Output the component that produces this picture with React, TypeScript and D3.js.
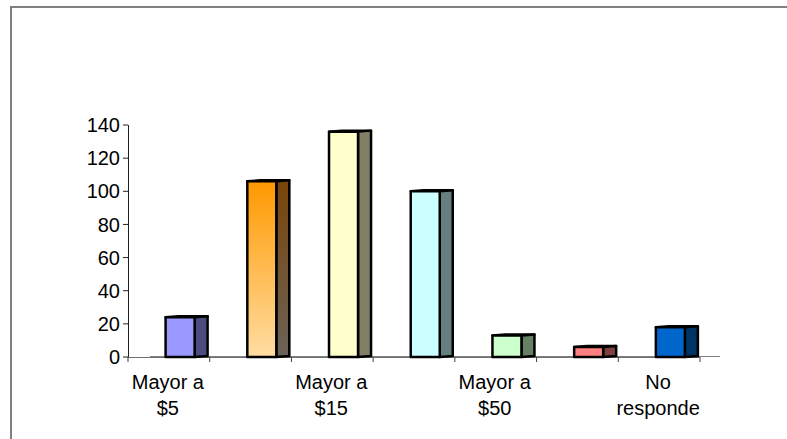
import React from "react";
import * as d3 from "d3";

// categories (only every other label is shown on the axis, as in the original)
const categories = ["Mayor a $5", "Mayor a $10", "Mayor a $15", "Mayor a $30", "Mayor a $50", "Mayor a $100", "No responde"];
const values = [24, 106, 136, 100, 13, 6, 18];
const yTicks = [0, 20, 40, 60, 80, 100, 120, 140];
const labelLines = [["Mayor a", "$5"], null, ["Mayor a", "$15"], null, ["Mayor a", "$50"], null, ["No", "responde"]];

const frontColors = ["#9999FF", "url(#gradFront)", "#FFFFCC", "#CCFFFF", "#CCFFCC", "#FF8080", "#0066CC"];
const sideColors = ["#4C4C80", "url(#gradSide)", "#808066", "#668080", "#668066", "#804040", "#003366"];

const W = 787;
const H = 439;
const font = "'Liberation Sans', Arial, sans-serif";

function App() {
  const x = d3.scaleBand().domain(categories).range([128, 700]).padding(0);
  const y = d3.scaleLinear().domain([0, 140]).range([357, 125]);
  const bw = x.bandwidth();
  const depth = 13;
  const lift = 1;

  return (
    <div>
      <style>{`body{margin:0}`}</style>
      <svg width={W} height={H} style={{ display: "block" }}>
        <defs>
          <linearGradient id="gradFront" x1="0" y1="0" x2="0" y2="1">
            <stop offset="0" stopColor="#FF9900" />
            <stop offset="1" stopColor="#FFDDA2" />
          </linearGradient>
          <linearGradient id="gradSide" x1="0" y1="0" x2="0" y2="1">
            <stop offset="0" stopColor="#7A4508" />
            <stop offset="1" stopColor="#6A6358" />
          </linearGradient>
        </defs>
        <rect x={11} y={7} width={W + 10} height={H + 10} fill="#fff" stroke="#808080" strokeWidth={2} />

        {/* floor / x axis */}
        <line x1={150} x2={720} y1={356.5} y2={356.5} stroke="#808080" strokeWidth={1} />
        <line x1={128} x2={700} y1={357.5} y2={357.5} stroke="#707070" strokeWidth={1.2} />
        {d3.range(categories.length + 1).map(i => {
          const xx = 128 + i * bw;
          return <line key={i} x1={xx} x2={xx} y1={357} y2={362} stroke="#404040" strokeWidth={1} />;
        })}

        {/* y axis */}
        <line x1={128.5} x2={128.5} y1={y(140)} y2={y(0)} stroke="#202020" strokeWidth={1} />
        {yTicks.map(t => (
          <g key={t}>
            <line x1={123} x2={128} y1={y(t)} y2={y(t)} stroke="#202020" strokeWidth={1} />
            <text x={120} y={y(t)} dy="0.36em" textAnchor="end" fontFamily={font} fontSize={20} fill="#000">
              {t}
            </text>
          </g>
        ))}

        {/* bars */}
        {categories.map((c, i) => {
          const x0 = (x(c) as number) + bw * 0.46;
          const fw = bw * 0.355;
          const top = y(values[i]);
          const base = y(0);
          const side = `M${x0 + fw},${top} L${x0 + fw + depth},${top - lift} L${x0 + fw + depth},${base - lift} L${x0 + fw},${base} Z`;
          const topFace = `M${x0},${top} L${x0 + depth},${top - lift} L${x0 + fw + depth},${top - lift} L${x0 + fw},${top} Z`;
          return (
            <g key={c} stroke="#000" strokeWidth={2.5} strokeLinejoin="round">
              <path d={topFace} fill={sideColors[i]} />
              <path d={side} fill={sideColors[i]} />
              <rect x={x0} y={top} width={fw} height={base - top} fill={frontColors[i]} />
            </g>
          );
        })}

        {/* category labels */}
        {categories.map((c, i) => {
          const lines = labelLines[i];
          if (!lines) return null;
          const cx = (x(c) as number) + bw / 2 - 1;
          return (
            <text key={c} x={cx} textAnchor="middle" fontFamily={font} fontSize={20} fill="#000">
              {lines.map((l, j) => (
                <tspan key={j} x={cx} y={389 + j * 26}>
                  {l}
                </tspan>
              ))}
            </text>
          );
        })}
      </svg>
    </div>
  );
}

export default App;
